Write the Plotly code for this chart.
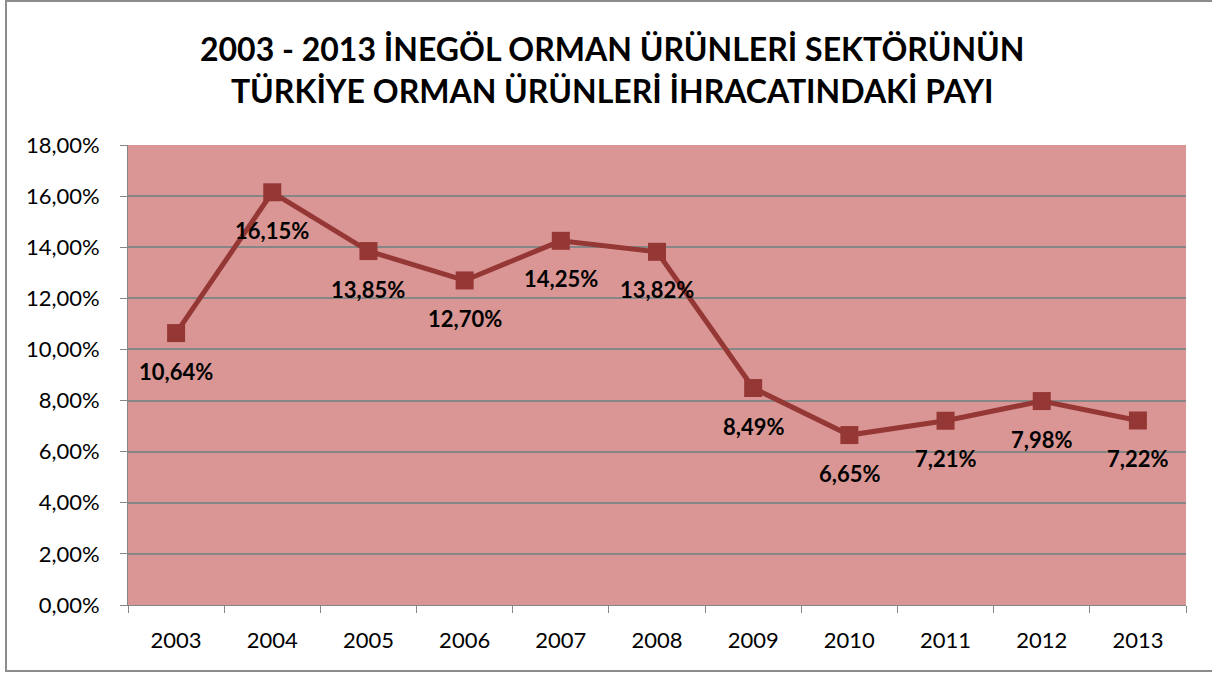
import plotly.graph_objects as go

years = ["2003", "2004", "2005", "2006", "2007", "2008", "2009", "2010", "2011", "2012", "2013"]
share = [0.1064, 0.1615, 0.1385, 0.1270, 0.1425, 0.1382, 0.0849, 0.0665, 0.0721, 0.0798, 0.0722]
labels = ["10,64%", "16,15%", "13,85%", "12,70%", "14,25%", "13,82%", "8,49%", "6,65%", "7,21%", "7,98%", "7,22%"]
title_lines = ["2003 - 2013 İNEGÖL ORMAN ÜRÜNLERİ SEKTÖRÜNÜN", "TÜRKİYE ORMAN ÜRÜNLERİ İHRACATINDAKİ PAYI"]

W, H = 1212, 673
L, R, T, B = 128, 26, 145, 68
pw, ph = W - L - R, H - T - B

FONT = "Lato"
fig = go.Figure()
fig.add_trace(go.Scatter(
    x=years, y=share, mode="lines+markers",
    line=dict(color="#953735", width=5),
    marker=dict(symbol="square", size=18, color="#953735"),
    hoverinfo="skip", showlegend=False,
))

annotations = []
for i, (y, t) in enumerate(zip(share, labels)):
    annotations.append(dict(x=i, y=y, xref="x", yref="y", text=t, showarrow=False, yshift=-38,
                            font=dict(family=FONT, size=22, color="#000000", weight="bold")))
annotations.append(dict(xref="paper", yref="paper", x=(612 - L) / pw, y=1 + (145 - 70) / ph,
                        xanchor="center", yanchor="middle",
                        text="<br>".join(title_lines), showarrow=False, align="center",
                        font=dict(family=FONT, size=32, color="#000000", weight="bold")))

fig.update_layout(
    width=W, height=H,
    margin=dict(l=L, r=R, t=T, b=B, pad=0),
    paper_bgcolor="white", plot_bgcolor="#D99694",
    separators=",.",
    annotations=annotations,
    shapes=[dict(type="rect", xref="paper", yref="paper",
                 x0=(6 - L) / pw, x1=(1230 - L) / pw, y0=-(671 - T - ph) / ph, y1=1 + (T - 1) / ph,
                 line=dict(color="#8c8c8c", width=2), layer="below")],
    xaxis=dict(type="category", range=[-0.5, 10.5], showgrid=False,
               showline=True, linecolor="#868686", linewidth=1,
               ticks="outside", tickson="boundaries", ticklen=7, tickcolor="#868686",
               tickfont=dict(family=FONT, size=22, color="#000000"), ticklabelstandoff=16),
    yaxis=dict(range=[0, 0.18], dtick=0.02, tickformat=".2%",
               showgrid=True, gridcolor="#868686", gridwidth=1.5,
               showline=True, linecolor="#868686", linewidth=1,
               ticks="outside", ticklen=7, tickcolor="#868686", zeroline=False,
               tickfont=dict(family=FONT, size=22, color="#000000"), ticklabelstandoff=16),
)
fig.write_html("out.html", config={"displayModeBar": False},
               post_script="document.body.style.margin='0';")
